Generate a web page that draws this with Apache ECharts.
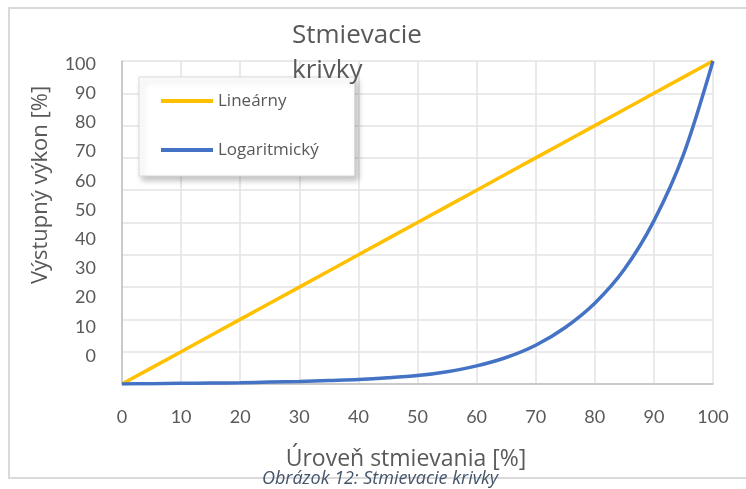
<!DOCTYPE html>
<html>
<head>
<meta charset="utf-8">
<script src="https://cdn.jsdelivr.net/npm/echarts@6/dist/echarts.min.js"></script>
<style>
  html, body { margin: 0; padding: 0; background: #fff; }
  #chart { width: 746px; height: 489px; }
</style>
</head>
<body>
<div id="chart"></div>
<script>
// úroveň stmievania (x) a hodnoty kriviek
const dimLevels = [0, 5, 10, 15, 20, 25, 30, 35, 40, 45, 50, 55, 60, 65, 70, 75, 80, 85, 90, 95, 100];
const linearValues = [0, 5, 10, 15, 20, 25, 30, 35, 40, 45, 50, 55, 60, 65, 70, 75, 80, 85, 90, 95, 100];
const logValues = [0, 0.1, 0.2, 0.3, 0.4, 0.6, 0.8, 1.1, 1.4, 1.9, 2.6, 3.8, 5.6, 8.2, 12, 17.5, 25, 35.5, 50.5, 71, 100];
const seriesNames = ['Lineárny', 'Logaritmický'];
const yTickValues = [0, 10, 20, 30, 40, 50, 60, 70, 80, 90, 100];

const toPairs = vals => dimLevels.map((x, i) => [x, vals[i]]);

const chart = echarts.init(document.getElementById('chart'));

const option = {
  animation: false,
  title: {
    text: 'Stmievacie\nkrivky',
    left: 287,
    top: 13,
    textStyle: { fontFamily: 'Open Sans', fontSize: 26, fontWeight: 'normal', color: '#595959', lineHeight: 35 }
  },
  legend: {
    orient: 'vertical',
    left: 139,
    top: 77,
    padding: [14, 36, 16, 22],
    itemGap: 29,
    itemWidth: 52,
    itemHeight: 4,
    icon: 'rect',
    backgroundColor: '#fff',
    borderColor: '#d9d9d9',
    borderWidth: 1,
    shadowBlur: 6,
    shadowOffsetX: 3,
    shadowOffsetY: 4,
    shadowColor: 'rgba(0,0,0,0.25)',
    textStyle: { fontFamily: 'Open Sans', fontSize: 17, color: '#595959', lineHeight: 20 },
    data: seriesNames
  },
  grid: { left: 122, right: 33, top: 61, bottom: 105 },
  xAxis: {
    type: 'value',
    min: 0,
    max: 100,
    interval: 10,
    axisLine: { show: true, lineStyle: { color: '#bfbfbf', width: 1.5 } },
    axisTick: { show: false },
    splitLine: { show: true, lineStyle: { color: '#e3e3e3', width: 1.5 } },
    axisLabel: { margin: 24, fontFamily: 'Lato', fontSize: 18, color: '#595959' }
  },
  yAxis: [
    {
      type: 'value',
      min: 0,
      max: 100,
      interval: 10,
      axisLine: { show: true, lineStyle: { color: '#bfbfbf', width: 1.5 } },
      axisTick: { show: false },
      splitLine: { show: true, lineStyle: { color: '#e3e3e3', width: 1.5 } },
      axisLabel: { show: false }
    },
    {
      // posunuté popisky osi Y ako v originále
      type: 'value',
      position: 'left',
      min: -9.6,
      max: 101,
      axisLine: { show: false },
      axisTick: { show: false },
      splitLine: { show: false },
      axisLabel: {
        customValues: yTickValues,
        margin: 26,
        fontFamily: 'Lato',
        fontSize: 18,
        color: '#595959'
      }
    }
  ],
  graphic: [
    {
      type: 'rect',
      shape: { x: 9, y: 8, width: 760, height: 470 },
      style: { fill: 'none', stroke: '#d9d9d9', lineWidth: 2 },
      z: -1
    },
    {
      type: 'text',
      x: 41,
      y: 185,
      rotation: Math.PI / 2,
      style: {
        text: 'Výstupný výkon [%]',
        fontFamily: 'Open Sans',
        fontSize: 22,
        fill: '#595959',
        align: 'center',
        verticalAlign: 'middle'
      }
    },
    {
      type: 'text',
      x: 406,
      y: 459,
      style: {
        text: 'Úroveň stmievania [%]',
        fontFamily: 'Open Sans',
        fontSize: 23,
        fill: '#595959',
        align: 'center',
        verticalAlign: 'middle'
      }
    },
    {
      type: 'text',
      x: 380,
      y: 479,
      style: {
        text: 'Obrázok 12: Stmievacie krivky',
        fontFamily: 'Open Sans',
        fontStyle: 'italic',
        fontSize: 18,
        fill: '#44546a',
        align: 'center',
        verticalAlign: 'middle'
      }
    }
  ],
  series: [
    {
      name: seriesNames[0],
      type: 'line',
      data: toPairs(linearValues),
      showSymbol: false,
      lineStyle: { color: '#ffc000', width: 3.5 },
      itemStyle: { color: '#ffc000' }
    },
    {
      name: seriesNames[1],
      type: 'line',
      data: toPairs(logValues),
      smooth: 0.3,
      showSymbol: false,
      lineStyle: { color: '#4472c4', width: 3.5 },
      itemStyle: { color: '#4472c4' }
    }
  ]
};

option && chart.setOption(option);
</script>
</body>
</html>
